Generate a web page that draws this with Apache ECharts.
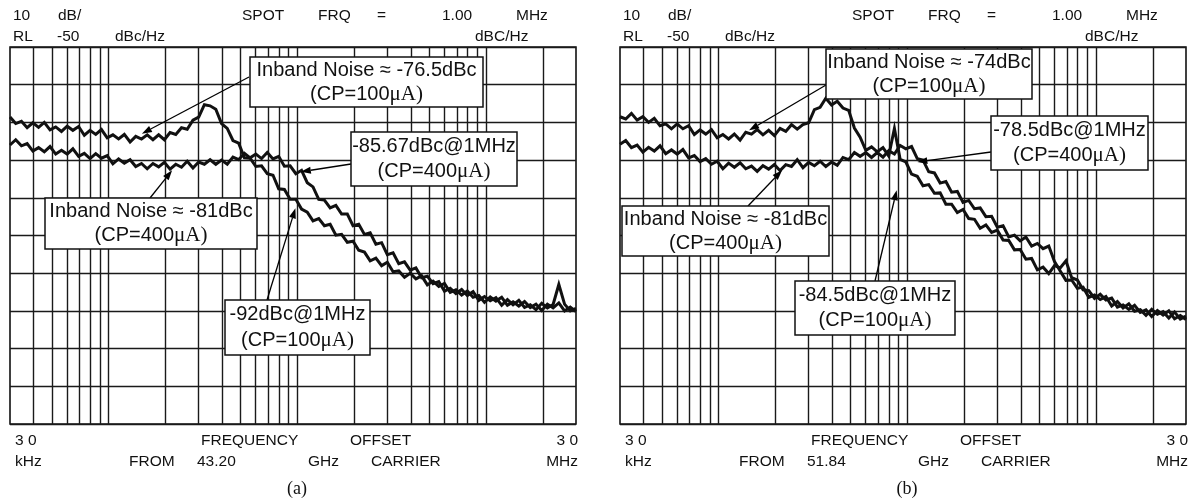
<!DOCTYPE html>
<html><head><meta charset="utf-8">
<script src="https://cdn.jsdelivr.net/npm/echarts/dist/echarts.min.js"></script>
<style>html,body{margin:0;padding:0;background:#fff}#c{width:1197px;height:498px}</style>
</head><body><div id="c"></div>
<script>
// ---- data (offset frequency in kHz, level in dBc/Hz) ----
const FREQ_KHZ = [30,32.17,34.49,36.98,39.66,42.52,45.59,48.89,52.42,56.21,
60.27,64.63,69.30,74.31,79.68,85.43,91.61,98.23,105.3,112.9,
121.1,129.9,139.2,149.3,160.1,171.7,184.1,197.4,211.6,226.9,
243.3,260.9,279.8,300.0,321.7,344.9,369.8,396.6,425.2,455.9,
488.9,524.2,562.1,602.7,646.3,693.0,743.1,796.8,854.3,916.1,
982.3,1053,1129,1211,1299,1392,1493,1601,1717,1841,
1974,2116,2269,2433,2609,2798,3000,3217,3449,3698,
3966,4252,4559,4889,5242,5621,6027,6463,6930,7431,
7968,8543,9161,9823,10530,11290,12110,12990,13920,14930,
16010,17170,18410,19740,21160,22690,24330,26090,27980,30000];

const A_CP100 = [-68.6,-70.3,-69.7,-71.4,-70.1,-71.3,-70.0,-72.0,-71.2,-72.4,
-71.0,-72.1,-71.1,-73.4,-72.1,-73.2,-71.9,-74.1,-73.3,-74.4,
-73.2,-75.2,-73.7,-74.4,-73.3,-74.6,-73.3,-74.6,-72.7,-73.2,
-71.4,-71.8,-69.4,-68.6,-65.3,-65.6,-66.5,-70.3,-71.6,-74.8,
-75.5,-79.4,-79.5,-81.7,-81.5,-83.6,-84.0,-87.6,-87.8,-90.4,
-90.4,-93.0,-93.8,-96.1,-95.5,-97.4,-97.0,-99.9,-99.7,-101.8,
-101.5,-103.9,-104.4,-106.7,-106.0,-108.0,-107.1,-109.6,-109.4,-111.1,
-110.0,-111.5,-110.7,-113.1,-112.1,-113.5,-112.7,-115.1,-114.4,-115.8,
-114.7,-116.4,-115.9,-117.7,-116.3,-117.4,-116.4,-118.5,-117.6,-118.7,
-117.5,-119.1,-118.2,-119.9,-118.2,-119.2,-117.9,-120.0,-119.0,-120.2];

const A_CP400 = [-76.0,-74.6,-76.2,-75.6,-77.6,-76.7,-77.8,-76.4,-78.4,-77.4,
-78.4,-77.0,-79.0,-78.2,-79.6,-78.3,-79.5,-78.8,-81.0,-79.7,
-80.8,-79.9,-81.7,-80.9,-82.3,-80.9,-81.8,-80.6,-82.4,-81.1,
-81.9,-80.3,-82.1,-80.5,-81.1,-79.9,-81.1,-80.0,-81.1,-79.2,
-79.9,-78.2,-79.4,-78.4,-79.6,-78.0,-79.7,-79.0,-81.6,-81.5,
-83.6,-82.7,-86.0,-87.1,-90.4,-90.6,-92.7,-92.0,-94.3,-94.3,
-97.4,-97.0,-99.7,-99.3,-102.3,-101.9,-105.1,-104.6,-107.5,-107.0,
-109.2,-108.6,-111.2,-110.8,-112.8,-112.2,-114.8,-114.0,-115.4,-114.3,
-115.9,-114.9,-117.2,-116.2,-117.3,-116.5,-118.5,-117.0,-118.4,-117.2,
-119.1,-118.4,-119.7,-118.0,-119.2,-118.3,-113.0,-118.2,-120.0,-119.3];

const B_CP100 = [-68.5,-69.1,-67.6,-69.4,-68.5,-70.0,-68.9,-70.9,-70.4,-71.7,
-70.4,-71.7,-70.9,-73.2,-72.0,-73.1,-71.9,-74.1,-73.2,-74.4,
-73.1,-74.7,-72.6,-73.1,-71.9,-73.3,-72.1,-73.5,-71.6,-72.4,
-70.6,-71.8,-70.6,-70.1,-66.6,-66.0,-63.6,-65.4,-64.4,-66.2,
-66.8,-71.5,-73.9,-77.4,-76.5,-77.8,-76.7,-78.9,-71.6,-79.8,
-80.5,-83.7,-84.3,-86.8,-86.5,-88.8,-88.7,-91.7,-91.7,-93.9,
-93.1,-95.5,-95.7,-98.1,-97.2,-99.2,-98.6,-101.2,-101.3,-103.8,
-103.7,-106.3,-106.1,-109.1,-108.4,-110.1,-108.0,-108.6,-106.7,-111.2,
-111.8,-114.4,-114.6,-116.7,-115.6,-117.1,-116.6,-119.0,-118.4,-119.6,
-118.5,-120.4,-119.7,-121.5,-119.9,-121.1,-120.0,-122.1,-121.2,-122.3];

const B_CP400 = [-75.8,-74.8,-76.7,-76.0,-77.9,-76.6,-77.6,-76.2,-78.3,-77.3,
-78.4,-77.2,-79.4,-78.8,-80.4,-79.6,-81.1,-80.3,-82.3,-80.8,
-81.9,-80.7,-82.3,-81.6,-83.0,-81.5,-82.4,-81.2,-82.8,-81.2,
-81.7,-79.9,-82.0,-80.6,-81.5,-80.3,-81.7,-80.5,-81.4,-79.3,
-79.9,-78.0,-79.0,-78.0,-79.3,-78.0,-79.2,-77.5,-78.4,-76.1,
-77.0,-76.4,-79.6,-80.0,-83.1,-83.4,-86.1,-85.7,-88.5,-88.3,
-91.2,-90.7,-92.9,-92.7,-95.0,-94.9,-97.8,-97.4,-100.4,-99.9,
-101.4,-100.4,-102.8,-102.1,-103.5,-102.8,-106.9,-109.4,-111.9,-111.8,
-114.0,-113.7,-116.4,-115.8,-117.0,-116.2,-118.7,-117.5,-119.2,-118.1,
-120.1,-119.7,-121.2,-119.6,-120.9,-120.2,-121.9,-120.3,-122.2,-121.4];

// vertical (log) grid lines, kHz
const GRID_FREQS_KHZ = [40,50,60,70,80,90,100,200,300,400,500,600,700,800,900,
1000,2000,3000,4000,5000,6000,7000,8000,9000,10000,20000];
const X_MIN_KHZ = 30, X_MAX_KHZ = 30000;
const Y_MIN = -150, Y_MAX = -50, Y_STEP = 10;

// texts
const HEAD_TEXT = ['10','dB/','SPOT','FRQ','=','1.00','MHz','RL','-50','dBc/Hz','dBC/Hz'];
const FOOT_TEXT = [
  ['3 0','FREQUENCY','OFFSET','3 0','kHz','FROM','43.20','GHz','CARRIER','MHz'],
  ['3 0','FREQUENCY','OFFSET','3 0','kHz','FROM','51.84','GHz','CARRIER','MHz']
];
const PANEL_LABELS = ['(a)','(b)'];
const ANNOT_TEXT = [
  [['Inband Noise \u2248 -76.5dBc','100'], ['-85.67dBc@1MHz','400'], ['Inband Noise \u2248 -81dBc','400'], ['-92dBc@1MHz','100']],
  [['Inband Noise \u2248 -74dBc','100'], ['-78.5dBc@1MHz','400'], ['Inband Noise \u2248 -81dBc','400'], ['-84.5dBc@1MHz','100']]
];
// arrow targets on the traces: [kHz, dBc/Hz]
const ANNOT_TIPS = [
  [[150,-73.0],[1044,-83.1],[217,-82.7],[977,-92.8]],
  [[145,-72.1],[1130,-80.5],[217,-82.7],[878,-88.0]]
];

// ---- layout ----
const PANEL_DX = [0, 610];
const GRID_LEFT = [10, 620];
const HEAD_POS = [[13,16],[58,16],[242,16],[318,16],[377,16],[442,16],[516,16],[13,37],[57,37],[115,37],[475,37]];
const FOOT_POS = [[15,441,'left'],[201,441,'left'],[350,441,'left'],[578,441,'right'],[15,462,'left'],[129,462,'left'],[197,462,'left'],[308,462,'left'],[371,462,'left'],[578,462,'right']];
const BOXES = [
  [[250,57,233,50],[351,132,166,54],[45,198,212,51],[225,300,145,55]],
  [[826,49,206,50],[991,116,157,54],[622,206,207,50],[795,281,160,54]]
];
const ARROW_FROM = [
  [[249,77],[351,164],[150,198],[267,300]],
  [[826,85],[991,152],[748,206],[875,281]]
];

const SANS = '"Liberation Sans", Arial, sans-serif';
const SERIF = '"Liberation Serif", "Times New Roman", serif';

const chart = echarts.init(document.getElementById('c'), null, {renderer:'canvas'});

const grids = [], xAxes = [], yAxes = [], series = [], graphic = [];
const CURVES = [[A_CP100, A_CP400],[B_CP100, B_CP400]];

for (let p = 0; p < 2; p++) {
  grids.push({left: GRID_LEFT[p], top: 47, width: 566, height: 377, show: true,
    borderColor: '#111', borderWidth: 1.6, backgroundColor: '#fff'});
  xAxes.push({type:'log', logBase:10, min:X_MIN_KHZ, max:X_MAX_KHZ, gridIndex:p,
    axisLine:{show:false}, axisTick:{show:false}, axisLabel:{show:false}, splitLine:{show:false}});
  yAxes.push({type:'value', min:Y_MIN, max:Y_MAX, interval:Y_STEP, gridIndex:p,
    axisLine:{show:false}, axisTick:{show:false}, axisLabel:{show:false},
    splitLine:{show:true, lineStyle:{color:'#1a1a1a', width:1.4}}});

  const [c100, c400] = CURVES[p];
  series.push({
    type:'line', name:'CP=100uA', xAxisIndex:p, yAxisIndex:p, z:3, silent:true, animation:false,
    data: FREQ_KHZ.map((f,i)=>[f, c100[i]]), symbol:'none',
    lineStyle:{color:'#111', width:3, join:'miter'},
    markLine:{silent:true, z:1, symbol:'none', animation:false, label:{show:false},
      lineStyle:{color:'#1a1a1a', width:1.4, type:'solid'},
      data: GRID_FREQS_KHZ.map(f=>({xAxis:f}))}
  });
  series.push({
    type:'line', name:'CP=400uA', xAxisIndex:p, yAxisIndex:p, z:3, silent:true, animation:false,
    data: FREQ_KHZ.map((f,i)=>[f, c400[i]]), symbol:'none',
    lineStyle:{color:'#111', width:3, join:'miter'}
  });

  // header / footer
  HEAD_TEXT.forEach((t,k)=>{
    graphic.push({type:'text', x:HEAD_POS[k][0]+PANEL_DX[p], y:HEAD_POS[k][1], z:20,
      style:{text:t, font:'15.5px '+SANS, fill:'#111', align:'left', verticalAlign:'middle'}});
  });
  FOOT_TEXT[p].forEach((t,k)=>{
    graphic.push({type:'text', x:FOOT_POS[k][0]+PANEL_DX[p], y:FOOT_POS[k][1], z:20,
      style:{text:t, font:'15.5px '+SANS, fill:'#111', align:FOOT_POS[k][2], verticalAlign:'middle'}});
  });
  graphic.push({type:'text', x:297+PANEL_DX[p], y:489, z:20,
    style:{text:PANEL_LABELS[p], font:'18px '+SERIF, fill:'#111', align:'center', verticalAlign:'middle'}});

  // annotation boxes
  ANNOT_TEXT[p].forEach((a,k)=>{
    const [bx,by,bw,bh] = BOXES[p][k];
    graphic.push({type:'rect', z:30, shape:{x:bx, y:by, width:bw, height:bh},
      style:{fill:'#fff', stroke:'#111', lineWidth:1.5}});
    graphic.push({type:'text', z:31, x:bx+bw/2, y:by+bh*0.27,
      style:{text:a[0], font:'20px '+SANS, fill:'#111', align:'center', verticalAlign:'middle'}});
    graphic.push({type:'text', z:31, x:bx+bw/2, y:by+bh*0.74,
      style:{text:'{s|(CP='+a[1]+'}{t|\u03bcA)}', align:'center', verticalAlign:'middle',
        rich:{s:{fontFamily:SANS, fontSize:20, fill:'#111'}, t:{fontFamily:SERIF, fontSize:21, fill:'#111'}}}});
  });
}

chart.setOption({
  animation:false,
  backgroundColor:'#fff',
  grid: grids, xAxis: xAxes, yAxis: yAxes, series: series
});

// arrows: from box edge to the trace point, positioned through the axes
for (let p = 0; p < 2; p++) {
  ANNOT_TIPS[p].forEach((tip,k)=>{
    const [x1,y1] = ARROW_FROM[p][k];
    const [x2,y2] = chart.convertToPixel({gridIndex:p}, tip);
    const dx = x2-x1, dy = y2-y1, L = Math.hypot(dx,dy), ux = dx/L, uy = dy/L;
    const hl = 10, hw = 3.5;
    const bxp = x2-ux*hl, byp = y2-uy*hl;
    graphic.push({type:'line', z:25, shape:{x1, y1, x2:bxp, y2:byp},
      style:{stroke:'#000', lineWidth:1.3}});
    graphic.push({type:'polygon', z:26, shape:{points:[[x2,y2],[bxp-uy*hw, byp+ux*hw],[bxp+uy*hw, byp-ux*hw]]},
      style:{fill:'#000'}});
  });
}
chart.setOption({graphic: graphic});
</script></body></html>
